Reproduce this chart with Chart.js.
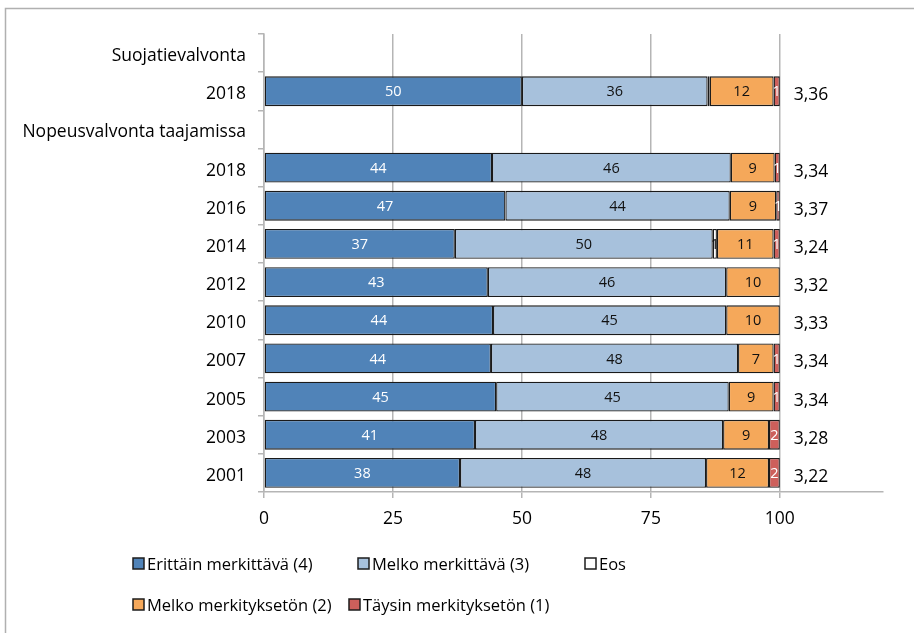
<!DOCTYPE html>
<html>
<head>
<meta charset="utf-8">
<script src="https://cdn.jsdelivr.net/npm/chart.js@4.4.0/dist/chart.umd.min.js"></script>
<style>
  html, body { margin: 0; padding: 0; background: #fff; }
  #wrap { width: 914px; height: 633px; position: relative; }
</style>
</head>
<body>
<div id="wrap"><canvas id="stage"></canvas></div>
<script>
// values (percent), header rows are empty
var categories = ['Suojatievalvonta', '2018', 'Nopeusvalvonta taajamissa', '2018', '2016', '2014', '2012', '2010', '2007', '2005', '2003', '2001'];
var erittain = [null, 50.0, null, 44.2, 46.8, 37.0, 43.4, 44.4, 44.0, 45.0, 40.9, 38.0];
var melkoMerkittava = [null, 36.0, null, 46.3, 43.5, 50.0, 46.2, 45.2, 47.9, 45.1, 48.1, 47.7];
var eos = [null, 0.4, null, 0, 0, 0.8, 0, 0, 0, 0, 0, 0];
var melkoMerkitykseton = [null, 12.4, null, 8.5, 9.0, 11.0, 10.4, 10.4, 6.9, 8.7, 8.9, 12.2];
var taysin = [null, 1.2, null, 1.0, 0.7, 1.2, 0, 0, 1.2, 1.2, 2.1, 2.1];
var averages = [null, 3.36, null, 3.34, 3.37, 3.24, 3.32, 3.33, 3.34, 3.34, 3.28, 3.22];
var xTicks = [0, 25, 50, 75, 100];

var FONT = '"Open Sans"';
var GRID = '#B5B5B5';

function bar(label, data, color, labelColor) {
  return {
    label: label,
    data: data,
    backgroundColor: color,
    borderColor: '#1a1a1a',
    borderWidth: 1.3,
    borderSkipped: false,
    barPercentage: 0.78,
    categoryPercentage: 1.0,
    labelColor: labelColor
  };
}

// numbers inside the bars
var barLabels = {
  id: 'barLabels',
  afterDatasetsDraw: function(chart) {
    var ctx = chart.ctx;
    ctx.save();
    ctx.font = '14.5px ' + FONT;
    ctx.textAlign = 'center';
    ctx.textBaseline = 'middle';
    chart.data.datasets.forEach(function(ds, i) {
      chart.getDatasetMeta(i).data.forEach(function(el, j) {
        var v = ds.data[j];
        if (v == null || Math.round(v) < 1) return;
        var c = el.getCenterPoint();
        ctx.fillStyle = ds.labelColor;
        ctx.fillText(String(Math.round(v)), c.x, c.y + 1);
      });
    });
    ctx.restore();
  }
};

// keskiarvot oikealla
var averageLabels = {
  id: 'averageLabels',
  afterDatasetsDraw: function(chart) {
    var ctx = chart.ctx, x = chart.scales.x, y = chart.scales.y;
    ctx.save();
    ctx.font = '17.5px ' + FONT;
    ctx.fillStyle = '#000';
    ctx.textAlign = 'left';
    ctx.textBaseline = 'middle';
    averages.forEach(function(a, j) {
      if (a == null) return;
      ctx.fillText(a.toFixed(2).replace('.', ','), x.getPixelForValue(100) + 14, y.getPixelForValue(j) + 4);
    });
    ctx.restore();
  }
};

// excel style legend, two rows
var legendRows = {
  id: 'legendRows',
  afterDraw: function(chart, args, opts) {
    var ctx = chart.ctx;
    ctx.save();
    ctx.font = '16.5px ' + FONT;
    ctx.textBaseline = 'middle';
    ctx.textAlign = 'left';
    opts.items.forEach(function(it) {
      var ds = chart.data.datasets[it.index];
      ctx.fillStyle = ds.backgroundColor;
      ctx.fillRect(it.x, it.y - 6, 11, 11);
      ctx.strokeStyle = '#1c1c1c';
      ctx.lineWidth = 1.5;
      ctx.strokeRect(it.x, it.y - 6, 11, 11);
      ctx.fillStyle = '#000';
      ctx.fillText(ds.label, it.x + 14, it.y + 1);
    });
    ctx.restore();
  }
};

var frame = {
  id: 'frame',
  beforeDraw: function(chart) {
    var ctx = chart.ctx;
    ctx.save();
    ctx.strokeStyle = '#B0B0B0';
    ctx.lineWidth = 1.5;
    ctx.beginPath();
    ctx.moveTo(5.5, chart.height);
    ctx.lineTo(5.5, 8.5);
    ctx.lineTo(chart.width, 8.5);
    ctx.stroke();
    ctx.restore();
  }
};

var canvas = document.getElementById('stage');
var chart = new Chart(canvas, {
  type: 'bar',
  data: {
    labels: categories,
    datasets: [
      bar('Erittäin merkittävä (4)', erittain, '#5083B8', '#ffffff'),
      bar('Melko merkittävä (3)', melkoMerkittava, '#A7C1DC', '#111111'),
      bar('Eos', eos, '#ffffff', '#111111'),
      bar('Melko merkityksetön (2)', melkoMerkitykseton, '#F5A85A', '#111111'),
      bar('Täysin merkityksetön (1)', taysin, '#CD5F5B', '#ffffff')
    ]
  },
  options: {
    indexAxis: 'y',
    responsive: true,
    maintainAspectRatio: false,
    animation: false,
    layout: { padding: { left: 0, top: 34, right: 31, bottom: 101 } },
    plugins: {
      legend: { display: false },
      tooltip: { enabled: false },
      legendRows: {
        items: [
          { index: 0, x: 133, y: 564 },
          { index: 1, x: 358, y: 564 },
          { index: 2, x: 585, y: 564 },
          { index: 3, x: 133, y: 605 },
          { index: 4, x: 349, y: 605 }
        ]
      }
    },
    scales: {
      x: {
        stacked: true,
        min: 0,
        max: 120,
        afterBuildTicks: function(scale) {
          scale.ticks = xTicks.map(function(v) { return { value: v }; });
        },
        afterFit: function(scale) { scale.height = 40; },
        grid: { color: GRID, lineWidth: 1.5, tickLength: 6 },
        border: { color: GRID, width: 1.5 },
        ticks: { font: { family: FONT, size: 17.5 }, color: '#000', padding: 11 }
      },
      y: {
        stacked: true,
        afterFit: function(scale) { scale.width = 264; },
        grid: { drawOnChartArea: false, color: GRID, lineWidth: 1.5, tickLength: 6, offset: true },
        border: { color: GRID, width: 1.5 },
        ticks: { font: { family: FONT, size: 17.5 }, color: '#000', padding: 12, autoSkip: false, labelOffset: 3 }
      }
    }
  },
  plugins: [frame, barLabels, averageLabels, legendRows]
});
</script>
</body>
</html>
